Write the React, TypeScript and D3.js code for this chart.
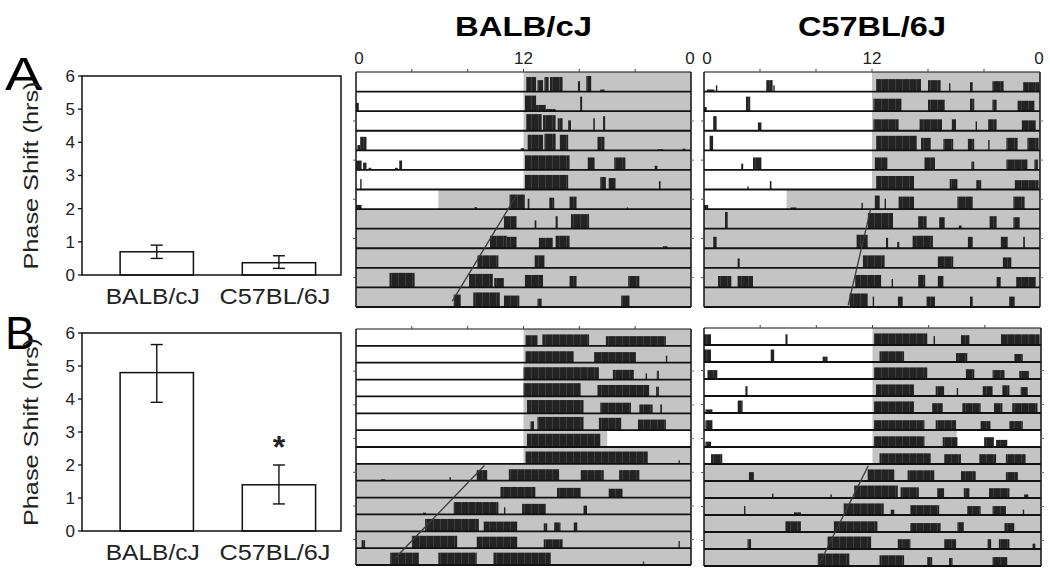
import React from "react";
import * as d3 from "d3";

const W = 1050;
const H = 572;
const FONT = "'Liberation Sans', Arial, Helvetica, sans-serif";

// ---- bar chart data ----
const strains = ["BALB/cJ", "C57BL/6J"];
const shiftA = [0.7, 0.37];
const errLowA = [0.5, 0.2];
const errHighA = [0.9, 0.58];
const shiftB = [4.8, 1.4];
const errLowB = [3.9, 0.82];
const errHighB = [5.65, 2.0];
const shiftTicks = [0, 1, 2, 3, 4, 5, 6];

// ---- actogram data ----
// hour ticks on the top edge, and labelled ticks
const hourTicks = [4, 8, 12, 16, 20];
const hourLabelPos = [0, 12, 24];
const hourLabelText = ["0", "12", "0"];

// dark (lights-off) intervals per row, in hours
const darkTop = [
  [[12, 24]], [[12, 24]], [[12, 24]], [[12, 24]], [[12, 24]], [[12, 24]],
  [[5.9, 24]],
  [[0, 24]], [[0, 24]], [[0, 24]], [[0, 24]], [[0, 24]],
];
const darkBottom = [
  [[12, 24]], [[12, 24]], [[12, 24]], [[12, 24]], [[12, 24]], [[12, 24]],
  [[12, 18]],
  [[12, 24]],
  [[0, 24]], [[0, 24]], [[0, 24]], [[0, 24]], [[0, 24]], [[0, 24]],
];

// activity bouts per row: [start h, end h, height fraction]
const balbTop = [
  [[12.2, 12.9, 0.7], [13.0, 13.4, 0.55], [13.5, 13.8, 0.7], [13.9, 14.8, 0.7], [15.9, 16.05, 0.5], [16.5, 16.85, 0.75], [17.5, 17.8, 0.1]],
  [[0.0, 0.2, 0.4], [12.1, 12.9, 0.75], [12.9, 13.6, 0.3], [13.6, 14.3, 0.1], [16.05, 16.2, 0.7]],
  [[12.2, 13.3, 0.8], [13.4, 14.3, 0.75], [14.45, 14.8, 0.6], [15.2, 15.4, 0.5], [17.0, 17.12, 0.6], [17.7, 17.85, 0.7]],
  [[0.1, 0.3, 0.25], [0.3, 0.75, 0.65], [11.8, 12.05, 0.1], [12.3, 13.4, 0.75], [13.5, 14.3, 0.8], [14.6, 15.2, 0.75], [17.3, 17.8, 0.65], [21.6, 22.0, 0.05], [23.4, 23.6, 0.08]],
  [[0.0, 0.4, 0.45], [0.5, 0.75, 0.35], [0.9, 1.1, 0.1], [2.8, 3.0, 0.1], [3.1, 3.3, 0.45], [12.1, 15.3, 0.7], [16.6, 17.1, 0.6], [18.5, 19.3, 0.6], [21.4, 21.6, 0.2]],
  [[0.3, 0.4, 0.5], [12.1, 15.2, 0.7], [17.5, 17.9, 0.6], [18.1, 18.6, 0.55], [21.7, 21.82, 0.4]],
  [[0.0, 0.4, 0.2], [8.5, 8.65, 0.1], [11.0, 12.1, 0.7], [12.3, 12.42, 0.5], [13.85, 14.2, 0.55], [15.3, 15.8, 0.6], [19.4, 19.5, 0.08]],
  [[10.6, 11.5, 0.6], [12.8, 12.92, 0.4], [14.3, 14.45, 0.6], [15.4, 16.7, 0.7]],
  [[9.6, 10.8, 0.6], [10.8, 11.5, 0.55], [13.1, 14.1, 0.5], [14.3, 15.3, 0.6], [22.0, 22.3, 0.1]],
  [[8.7, 10.2, 0.6], [12.8, 13.5, 0.6]],
  [[2.4, 4.2, 0.7], [8.1, 9.8, 0.65], [9.9, 10.6, 0.45], [12.1, 13.4, 0.6], [15.3, 15.8, 0.55], [19.5, 20.3, 0.55]],
  [[7.0, 7.5, 0.6], [8.4, 10.3, 0.7], [10.6, 11.7, 0.55], [13.0, 13.3, 0.4], [19.0, 19.6, 0.55]],
];

const c57Top = [
  [[0.2, 0.75, 0.1], [0.85, 0.95, 0.3], [4.45, 4.9, 0.55], [4.95, 5.05, 0.3], [12.3, 15.5, 0.6], [16.0, 16.9, 0.55], [17.5, 17.6, 0.4], [19.0, 19.2, 0.45], [20.6, 21.4, 0.5], [22.8, 23.95, 0.45]],
  [[0.0, 0.2, 0.2], [3.0, 3.3, 0.7], [12.1, 14.1, 0.6], [16.0, 17.2, 0.55], [19.0, 19.3, 0.6], [20.6, 20.9, 0.55], [22.4, 23.6, 0.5]],
  [[0.65, 0.9, 0.7], [3.85, 4.1, 0.4], [12.1, 13.9, 0.55], [15.4, 17.0, 0.55], [17.7, 18.0, 0.55], [19.4, 19.5, 0.45], [20.3, 20.9, 0.55], [22.7, 23.7, 0.5]],
  [[0.4, 0.65, 0.7], [12.3, 15.2, 0.7], [15.5, 16.2, 0.6], [17.1, 17.8, 0.55], [18.85, 19.3, 0.55], [20.3, 20.4, 0.5], [21.6, 22.4, 0.6], [23.1, 23.9, 0.6]],
  [[2.65, 2.8, 0.3], [3.5, 4.1, 0.6], [12.2, 13.1, 0.6], [15.75, 16.5, 0.6], [19.1, 19.3, 0.4], [21.6, 23.1, 0.5], [23.6, 23.85, 0.5]],
  [[3.1, 3.2, 0.15], [4.7, 4.82, 0.4], [12.3, 15.0, 0.65], [17.55, 18.1, 0.5], [19.45, 19.8, 0.45], [22.2, 23.9, 0.45]],
  [[0.0, 0.3, 0.2], [6.2, 6.6, 0.08], [11.25, 11.35, 0.3], [12.2, 12.55, 0.65], [12.9, 13.0, 0.5], [13.9, 15.0, 0.6], [18.1, 19.2, 0.6], [22.1, 22.9, 0.6]],
  [[1.5, 1.7, 0.8], [11.7, 13.5, 0.75], [15.3, 15.9, 0.6], [16.8, 17.2, 0.55], [18.2, 18.4, 0.15], [20.4, 20.9, 0.6], [22.1, 22.55, 0.55]],
  [[0.65, 0.9, 0.55], [10.9, 11.7, 0.65], [13.0, 13.15, 0.5], [13.8, 13.95, 0.3], [14.9, 16.35, 0.6], [18.85, 19.2, 0.55], [21.2, 21.7, 0.55], [22.8, 22.92, 0.55]],
  [[2.4, 2.55, 0.45], [11.35, 12.9, 0.6], [16.7, 17.8, 0.55], [21.35, 21.95, 0.5]],
  [[1.0, 1.95, 0.55], [2.4, 3.5, 0.55], [10.8, 12.65, 0.6], [13.4, 13.5, 0.4], [15.3, 15.8, 0.6], [16.7, 17.1, 0.55], [20.9, 21.2, 0.5], [22.3, 23.7, 0.5]],
  [[10.4, 11.7, 0.65], [12.05, 12.15, 0.5], [13.85, 14.2, 0.5], [15.9, 16.5, 0.5], [19.0, 19.2, 0.5], [21.8, 22.2, 0.5]],
];

const balbBottom = [
  [[12.15, 13.0, 0.6], [13.35, 16.7, 0.65], [17.9, 22.2, 0.55]],
  [[12.15, 15.6, 0.65], [17.05, 20.05, 0.6], [22.2, 22.3, 0.4]],
  [[12.0, 17.4, 0.7], [18.4, 19.9, 0.55], [20.75, 20.85, 0.35], [21.55, 21.7, 0.5]],
  [[12.0, 16.1, 0.75], [17.3, 21.0, 0.65], [21.5, 21.7, 0.55]],
  [[12.25, 16.3, 0.75], [17.5, 19.7, 0.6], [20.3, 21.25, 0.5], [21.8, 21.92, 0.5]],
  [[12.5, 12.75, 0.5], [13.0, 16.3, 0.75], [17.4, 19.0, 0.7], [20.2, 22.2, 0.6]],
  [[12.25, 17.5, 0.75]],
  [[12.15, 20.9, 0.7], [23.1, 23.2, 0.2]],
  [[1.8, 2.1, 0.08], [6.7, 6.8, 0.2], [8.65, 9.4, 0.6], [10.95, 14.55, 0.65], [16.1, 17.75, 0.6], [18.85, 20.3, 0.6]],
  [[10.35, 12.85, 0.6], [14.4, 16.1, 0.55], [18.1, 19.1, 0.5]],
  [[4.8, 5.0, 0.1], [7.0, 10.2, 0.7], [10.6, 10.7, 0.4], [11.9, 13.6, 0.6], [16.3, 16.55, 0.5]],
  [[4.95, 8.8, 0.7], [9.15, 11.55, 0.55], [13.45, 13.7, 0.45], [14.2, 14.65, 0.5], [15.6, 15.85, 0.5]],
  [[0.4, 0.65, 0.45], [4.0, 7.25, 0.7], [8.65, 11.55, 0.65], [13.45, 14.8, 0.5], [23.1, 23.2, 0.4]],
  [[2.45, 4.5, 0.7], [5.9, 8.65, 0.7], [9.85, 13.95, 0.7], [20.55, 20.65, 0.2]],
];

const c57Bottom = [
  [[0.0, 0.5, 0.6], [5.8, 5.95, 0.6], [12.1, 15.9, 0.65], [16.35, 16.45, 0.5], [18.3, 18.9, 0.55], [21.15, 23.9, 0.6]],
  [[0.0, 0.5, 0.7], [4.75, 5.0, 0.7], [8.45, 8.8, 0.3], [12.5, 14.25, 0.6], [17.95, 18.75, 0.5], [22.1, 22.7, 0.45]],
  [[0.25, 0.95, 0.5], [12.1, 15.9, 0.65], [18.65, 19.25, 0.55], [20.55, 21.4, 0.5], [22.45, 23.15, 0.45]],
  [[2.95, 3.1, 0.55], [12.25, 14.95, 0.65], [16.5, 17.1, 0.55], [18.0, 18.1, 0.45], [19.85, 20.55, 0.55], [21.25, 21.75, 0.6], [22.55, 23.05, 0.5]],
  [[0.1, 0.6, 0.2], [2.4, 2.75, 0.7], [12.1, 14.95, 0.65], [16.25, 17.0, 0.55], [18.4, 19.7, 0.55], [20.65, 21.25, 0.55], [21.95, 23.75, 0.55]],
  [[0.1, 0.6, 0.55], [12.1, 15.7, 0.55], [16.5, 17.95, 0.55], [19.7, 20.4, 0.5], [21.75, 22.7, 0.5]],
  [[0.1, 0.5, 0.3], [12.1, 15.7, 0.6], [17.0, 18.05, 0.55], [19.95, 20.65, 0.55], [20.8, 21.6, 0.4]],
  [[0.5, 1.3, 0.55], [12.5, 16.15, 0.6], [17.1, 18.3, 0.55], [19.6, 20.8, 0.55], [21.5, 22.9, 0.55]],
  [[3.2, 3.55, 0.5], [11.65, 13.55, 0.65], [14.5, 16.4, 0.6], [18.3, 19.35, 0.55], [21.5, 22.35, 0.5]],
  [[4.85, 4.95, 0.25], [9.0, 9.1, 0.2], [10.7, 13.8, 0.7], [14.0, 15.3, 0.6], [16.6, 17.1, 0.55], [18.5, 18.9, 0.55], [20.3, 21.75, 0.55], [22.8, 23.1, 0.2]],
  [[2.85, 2.95, 0.5], [6.4, 6.9, 0.15], [9.95, 12.8, 0.65], [13.3, 13.55, 0.3], [14.7, 16.75, 0.55], [18.75, 19.7, 0.5], [20.55, 21.5, 0.5], [22.7, 22.8, 0.3]],
  [[5.8, 6.9, 0.6], [9.25, 12.35, 0.6], [14.7, 16.85, 0.5], [18.05, 18.5, 0.55], [21.4, 22.1, 0.5]],
  [[3.1, 3.35, 0.55], [8.8, 11.9, 0.7], [13.8, 14.7, 0.55], [17.1, 17.95, 0.55], [20.2, 20.45, 0.55], [21.0, 21.75, 0.55], [23.4, 23.6, 0.3]],
  [[8.1, 10.35, 0.7], [12.5, 14.25, 0.6], [15.9, 16.25, 0.5], [17.45, 17.7, 0.45], [20.55, 21.6, 0.5]],
];

// fitted onset lines: [row position, hour] at both ends
const balbTopFit = [[6.3, 11.5], [11.7, 6.9]];
const c57TopFit = [[7.0, 11.9], [11.9, 10.3]];
const balbBottomFit = [[8.1, 9.2], [13.6, 2.8]];
const c57BottomFit = [[8.1, 11.7], [13.9, 8.2]];

type Bout = number[];

function Actogram({ x0, x1, y0, y1, dark, bouts, fit, labels, title, titleLen }: any) {
  const rows = bouts.length;
  const x = d3.scaleLinear().domain([0, 24]).range([x0, x1]);
  const y = d3.scaleLinear().domain([0, rows]).range([y0, y1]);
  const rowH = y(1) - y(0);
  const hScale = d3.scaleLinear().domain([0, 1]).range([0, (rowH - 1.5) * 1.15]).clamp(true);
  const fitLine = d3
    .line<number[]>()
    .x((d) => x(d[1]))
    .y((d) => y(d[0]));
  return (
    <g>
      {title && (
        <text x={(x0 + x1) / 2} y={36} textAnchor="middle" fontFamily={FONT} fontWeight="bold" fontSize={28} textLength={titleLen} lengthAdjust="spacingAndGlyphs">
          {title}
        </text>
      )}
      {labels &&
        hourLabelPos.map((h, i) => (
          <text key={"l" + i} x={x(h) + (i === 0 ? 3 : i === 2 ? -1 : 0)} y={64} textAnchor="middle" fontFamily={FONT} fontSize={17} fill="#222">
            {hourLabelText[i]}
          </text>
        ))}
      <rect x={x0} y={y0} width={x1 - x0} height={y1 - y0} fill="#fff" />
      {dark.map((row: number[][], r: number) =>
        row.map((iv, k) => (
          <rect key={`d${r}-${k}`} x={x(iv[0])} y={y(r)} width={x(iv[1]) - x(iv[0])} height={rowH} fill="#c4c4c4" />
        ))
      )}
      {bouts.map((row: Bout[], r: number) =>
        row.map((b, k) => {
          const h = Math.min(rowH - 2, hScale(b[2]));
          return (
            <rect key={`b${r}-${k}`} x={x(b[0])} y={y(r + 1) - h} width={Math.max(1, x(b[1]) - x(b[0]))} height={h} fill="url(#boutFill)" />
          );
        })
      )}
      {d3.range(rows + 1).map((r) => (
        <line key={"r" + r} x1={x0} x2={x1} y1={y(r)} y2={y(r)} stroke="#111" strokeWidth={r === 0 ? 1.2 : 1.8} />
      ))}
      <line x1={x0} x2={x0} y1={y0} y2={y1} stroke="#111" strokeWidth={1.5} />
      <line x1={x1} x2={x1} y1={y0} y2={y1} stroke="#111" strokeWidth={1.5} />
      {hourTicks.map((h) => (
        <line key={"t" + h} x1={x(h)} x2={x(h)} y1={y0} y2={y0 - 3} stroke="#444" strokeWidth={1} />
      ))}
      {d3.range(2, rows, 2).map((r) => (
        <g key={"s" + r}>
          <line x1={x0 - 3} x2={x0} y1={y(r) + rowH / 2} y2={y(r) + rowH / 2} stroke="#555" strokeWidth={1} />
          <line x1={x1} x2={x1 + 3} y1={y(r) + rowH / 2} y2={y(r) + rowH / 2} stroke="#777" strokeWidth={1} />
        </g>
      ))}
      <path d={fitLine(fit) || ""} stroke="#3a3a3a" strokeWidth={1.3} fill="none" />
    </g>
  );
}

function BarPanel({ y0, y1, values, lows, highs, letter, letterY, letterLen, star }: any) {
  const x0 = 82;
  const x1 = 341;
  const x = d3.scaleBand().domain(strains).range([x0, x1]).paddingInner(0.4).paddingOuter(0.26).align(0.6);
  const y = d3.scaleLinear().domain([0, 6]).range([y1, y0]);
  const bw = x.bandwidth();
  return (
    <g fontFamily={FONT}>
      <text x={5} y={letterY} fontSize={46} textLength={letterLen} lengthAdjust="spacingAndGlyphs">
        {letter}
      </text>
      <text transform={`translate(38,${(y0 + y1) / 2}) rotate(-90)`} textAnchor="middle" fontSize={21} fill="#222" textLength={188} lengthAdjust="spacingAndGlyphs">
        Phase Shift (hrs)
      </text>
      {shiftTicks.map((t) => (
        <g key={t}>
          <line x1={x0 - 4} x2={x0} y1={y(t)} y2={y(t)} stroke="#111" strokeWidth={1.3} />
          <text x={75} y={y(t)} dy="0.35em" textAnchor="end" fontSize={17} fill="#222">
            {t}
          </text>
        </g>
      ))}
      {strains.map((s, i) => (
        <g key={s}>
          <rect x={x(s)} y={y(values[i])} width={bw} height={y(0) - y(values[i])} fill="#fff" stroke="#111" strokeWidth={1.5} />
          <line x1={(x(s) || 0) + bw / 2} x2={(x(s) || 0) + bw / 2} y1={y(lows[i])} y2={y(highs[i])} stroke="#111" strokeWidth={1.4} />
          <line x1={(x(s) || 0) + bw / 2 - 6} x2={(x(s) || 0) + bw / 2 + 6} y1={y(lows[i])} y2={y(lows[i])} stroke="#111" strokeWidth={1.4} />
          <line x1={(x(s) || 0) + bw / 2 - 6} x2={(x(s) || 0) + bw / 2 + 6} y1={y(highs[i])} y2={y(highs[i])} stroke="#111" strokeWidth={1.4} />
          <text x={(x(s) || 0) + bw / 2 - 4} y={y1 + 29} textAnchor="middle" fontSize={22} fill="#222" textLength={i === 0 ? 94 : 111} lengthAdjust="spacingAndGlyphs">
            {s}
          </text>
        </g>
      ))}
      <rect x={x0} y={y0} width={x1 - x0} height={y1 - y0} fill="none" stroke="#111" strokeWidth={1.5} />
      {star && (
        <text x={(x(strains[1]) || 0) + bw / 2} y={y(highs[1]) - 7} textAnchor="middle" fontSize={32} fontWeight="bold" fill="#222">
          *
        </text>
      )}
    </g>
  );
}

export default function App() {
  return (
    <svg width={W} height={H} style={{ position: "absolute", left: 0, top: 0, background: "#fff" }}>
      <defs>
        <pattern id="boutFill" width={7} height={4} patternUnits="userSpaceOnUse">
          <rect width={7} height={4} fill="#232323" />
          <rect x={6.3} width={0.5} height={4} fill="#555" />
        </pattern>
      </defs>
      <rect width={W} height={H} fill="#fff" />
      <BarPanel y0={76} y1={275} values={shiftA} lows={errLowA} highs={errHighA} letter="A" letterY={90} letterLen={37} />
      <BarPanel y0={333} y1={531} values={shiftB} lows={errLowB} highs={errHighB} letter="B" letterY={349} letterLen={30} star />
      <Actogram x0={356} x1={691} y0={72} y1={307} dark={darkTop} bouts={balbTop} fit={balbTopFit} labels title="BALB/cJ" titleLen={137} />
      <Actogram x0={704} x1={1040} y0={72} y1={307} dark={darkTop} bouts={c57Top} fit={c57TopFit} labels title="C57BL/6J" titleLen={148} />
      <Actogram x0={356} x1={691} y0={329} y1={565} dark={darkBottom} bouts={balbBottom} fit={balbBottomFit} />
      <Actogram x0={704} x1={1041} y0={328} y1={566} dark={darkBottom} bouts={c57Bottom} fit={c57BottomFit} />
    </svg>
  );
}
